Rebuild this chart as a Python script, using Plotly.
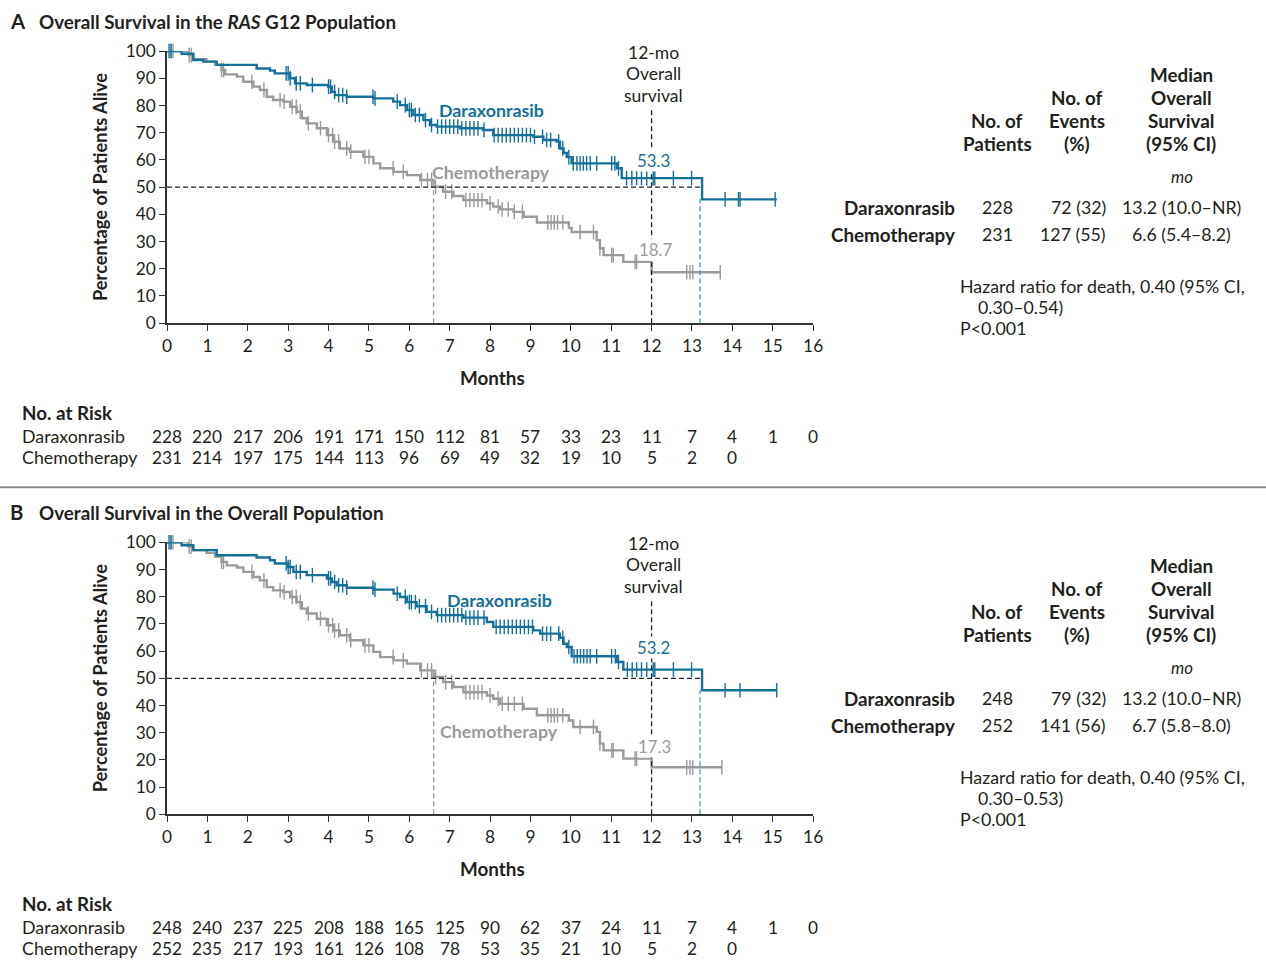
import plotly.graph_objects as go

W, H = 1266, 974
BLUE = "#14709a"
GRAY = "#9a9a9a"
BLUE_DASH = "#3d9cc8"
TXT = "#231f20"
FONT = "Lato"

months = list(range(17))

# ---------------- Panel A data ----------------
a_dara_t = [0, 0.36, 0.65, 0.9, 1.23, 2.22, 2.55, 2.67, 3.05, 3.17, 3.46, 3.99, 4.08, 4.16, 4.45,
            5.11, 5.6, 5.77, 5.94, 6.1, 6.35, 6.51, 6.68, 7.26, 7.83, 8.08, 9.07, 9.32, 9.65,
            9.73, 9.82, 9.9, 10.02, 11.14, 11.26, 13.25, 15.1]
a_dara_s = [100, 99.0, 96.7, 96.1, 94.9, 93.6, 92.8, 91.8, 90.0, 88.1, 87.5, 86.9, 85.0, 83.8, 83.2,
            82.6, 81.4, 80.1, 78.3, 76.5, 74.6, 72.8, 72.2, 71.6, 71.0, 69.1, 68.5, 67.3, 66.7,
            64.2, 62.5, 61.0, 58.7, 56.9, 53.3, 45.5, 45.5]
a_chemo_t = [0, 0.53, 0.65, 0.98, 1.19, 1.35, 1.44, 1.73, 1.89, 2.14, 2.30, 2.47, 2.63, 2.88, 3.05,
             3.21, 3.34, 3.46, 3.71, 3.96, 4.12, 4.28, 4.53, 4.86, 5.11, 5.28, 5.61, 5.94, 6.27,
             6.6, 6.84, 7.09, 7.34, 7.92, 8.08, 8.25, 8.58, 8.83, 9.16, 9.95, 10.02, 10.64, 10.72,
             10.81, 11.3, 12.0, 13.7]
a_chemo_s = [100, 98.5, 97.0, 96.1, 94.9, 93.0, 91.4, 90.6, 88.7, 86.9, 85.7, 83.2, 82.0, 81.4, 79.5,
             77.7, 75.3, 73.4, 71.6, 69.1, 66.7, 64.2, 63.0, 61.1, 58.7, 56.9, 55.6, 54.4, 52.6,
             50.1, 48.3, 46.7, 45.2, 44.0, 42.8, 41.8, 40.9, 39.1, 37.0, 35.0, 33.5, 30.5, 27.5,
             25.0, 22.5, 18.7, 18.7]
a_dara_cens = [0.05, 0.1, 2.95, 3.0, 3.05, 3.2, 3.3, 3.6, 4.0, 4.05, 4.15, 4.25, 4.35, 4.45, 5.1, 5.15,
               5.7, 5.9, 6.0, 6.05, 6.15, 6.25, 6.4, 6.55, 6.7, 6.8, 6.9, 7.0, 7.1, 7.2, 7.3, 7.4, 7.5,
               7.6, 7.7, 7.85, 8.1, 8.2, 8.3, 8.4, 8.5, 8.6, 8.7, 8.8, 8.9, 9.0, 9.1, 9.3, 9.4, 9.5,
               9.7, 9.8, 9.95, 10.06, 10.15, 10.23, 10.31, 10.39, 10.48, 10.64, 11.01, 11.09, 11.18,
               11.38, 11.51, 11.63, 11.75, 11.88, 12.04, 12.08, 12.54, 12.99, 13.82, 14.15, 14.19, 15.06]
a_chemo_cens = [0.1, 0.15, 0.55, 0.6, 1.35, 1.4, 2.1, 2.4, 2.8, 2.9, 3.1, 3.2, 3.3, 3.5, 3.8, 4.0, 4.1,
                4.15, 4.25, 4.45, 4.55, 4.9, 5.0, 5.6, 5.85, 6.3, 6.45, 6.55, 6.65, 6.9, 7.05, 7.4, 7.5,
                7.6, 7.7, 7.8, 8.0, 8.2, 8.3, 8.45, 8.6, 8.8, 9.43, 9.51, 9.59, 9.67, 9.8, 10.23, 10.56,
                10.72, 11.01, 11.05, 11.59, 11.63, 12.87, 12.95, 13.02, 13.7]
a_risk_dara = [228, 220, 217, 206, 191, 171, 150, 112, 81, 57, 33, 23, 11, 7, 4, 1, 0]
a_risk_chemo = [231, 214, 197, 175, 144, 113, 96, 69, 49, 32, 19, 10, 5, 2, 0]
a_os12 = [53.3, 18.7]
a_median = [13.2, 6.6]
a_median_line = [13.2, 6.6]

# ---------------- Panel B data ----------------
b_dara_t = [0, 0.36, 0.65, 1.23, 2.22, 2.55, 2.67, 3.0, 3.13, 3.46, 3.96, 4.08, 4.2, 4.45, 5.11,
            5.61, 5.77, 5.94, 6.18, 6.43, 6.68, 7.34, 7.92, 8.08, 9.07, 9.24, 9.73, 9.82, 9.9, 10.02,
            11.14, 11.3, 13.25, 15.1]
b_dara_s = [100, 98.9, 97.1, 95.2, 94.4, 93.4, 92.2, 90.9, 89.1, 87.9, 86.7, 85.4, 84.2, 83.3, 82.6,
            81.1, 79.9, 78.0, 76.5, 74.4, 73.2, 72.3, 70.7, 68.9, 67.6, 66.4, 64.9, 62.7, 61.5, 58.1,
            56.0, 53.2, 45.6, 45.6]
b_chemo_t = [0, 0.53, 0.65, 0.98, 1.19, 1.35, 1.48, 1.73, 1.89, 2.14, 2.30, 2.47, 2.63, 2.88, 3.05,
             3.21, 3.34, 3.46, 3.71, 3.96, 4.12, 4.28, 4.53, 4.86, 5.11, 5.28, 5.61, 5.94, 6.27, 6.6,
             6.84, 7.09, 7.34, 7.92, 8.08, 8.25, 8.83, 9.16, 9.95, 10.06, 10.64, 10.72, 10.81, 11.3,
             12.0, 13.74]
b_chemo_s = [100, 98.4, 97.1, 96.1, 94.7, 92.8, 91.5, 90.7, 89.1, 87.2, 86.0, 83.5, 82.3, 81.7, 79.9,
             78.0, 75.6, 73.8, 71.9, 69.5, 67.6, 65.8, 64.0, 62.1, 59.7, 57.8, 56.6, 55.4, 52.9, 50.5,
             48.6, 46.8, 44.9, 43.7, 42.5, 40.6, 38.8, 36.4, 34.5, 32.1, 30.3, 26.0, 23.5, 20.5,
             17.3, 17.3]
b_dara_cens = [0.05, 0.1, 2.95, 3.0, 3.05, 3.2, 3.3, 3.6, 4.0, 4.05, 4.15, 4.25, 4.35, 4.45, 5.1, 5.15,
               5.7, 5.9, 6.0, 6.05, 6.15, 6.25, 6.4, 6.55, 6.7, 6.8, 6.9, 7.0, 7.1, 7.2, 7.3, 7.4, 7.5,
               7.6, 7.7, 7.85, 8.15, 8.25, 8.35, 8.45, 8.55, 8.65, 8.75, 8.85, 8.95, 9.05, 9.3, 9.4,
               9.5, 9.7, 9.8, 9.95, 10.08, 10.16, 10.24, 10.32, 10.4, 10.48, 10.64, 11.01, 11.1,
               11.18, 11.4, 11.52, 11.63, 11.75, 11.88, 12.04, 12.08, 12.54, 12.99, 13.82, 14.19, 15.1]
b_chemo_cens = [0.1, 0.15, 0.55, 0.6, 1.35, 1.4, 2.1, 2.4, 2.8, 2.9, 3.1, 3.2, 3.3, 3.5, 3.8, 4.0, 4.1,
                4.15, 4.25, 4.45, 4.55, 4.9, 5.0, 5.6, 5.85, 6.3, 6.45, 6.55, 6.65, 6.9, 7.05, 7.4, 7.5,
                7.6, 7.7, 7.8, 8.0, 8.2, 8.3, 8.45, 8.6, 8.8, 9.43, 9.51, 9.59, 9.67, 9.8, 10.23,
                10.56, 10.72, 11.01, 11.05, 11.59, 11.63, 12.87, 12.95, 13.02, 13.74]
b_risk_dara = [248, 240, 237, 225, 208, 188, 165, 125, 90, 62, 37, 24, 11, 7, 4, 1, 0]
b_risk_chemo = [252, 235, 217, 193, 161, 126, 108, 78, 53, 35, 21, 10, 5, 2, 0]
b_os12 = [53.2, 17.3]
b_median = [13.2, 6.7]
b_median_line = [13.2, 6.6]

groups = ["Daraxonrasib", "Chemotherapy"]
a_table = [["228", "72 (32)", "13.2 (10.0–NR)"], ["231", "127 (55)", "6.6 (5.4–8.2)"]]
b_table = [["248", "79 (32)", "13.2 (10.0–NR)"], ["252", "141 (56)", "6.7 (5.8–8.0)"]]
a_hr = ["Hazard ratio for death, 0.40 (95% CI,", "0.30–0.54)", "P<0.001"]
b_hr = ["Hazard ratio for death, 0.40 (95% CI,", "0.30–0.53)", "P<0.001"]


def step_at(t, ts, ss):
    v = ss[0]
    for ti, si in zip(ts, ss):
        if ti <= t:
            v = si
        else:
            break
    return v


fig = go.Figure()
annotations = []
shapes = []

X_L, X_R = 167, 813
# compensation for the page-to-picture framing seen in the rendered snapshot
OX, SX, OY, SY = 5.0, 0.988, 11.0, 0.978
FS = 1.0 / 0.983


def px(x):
    return ((x - OX) / SX) / W


def py(y):
    return 1 - ((y - OY) / SY) / H


def fs(s):
    return round(s * FS, 2)


def txt(x, y, s, size=16, color=TXT, anchor="center", bold=False, italic=False, xref="paper", bg=None):
    if bold:
        s = "<b>" + s + "</b>"
    if italic:
        s = "<i>" + s + "</i>"
    a = dict(x=px(x) if xref == "paper" else x, y=py(y), xref=xref, yref="paper", text=s,
             showarrow=False, xanchor=anchor, yanchor="middle",
             font=dict(family=FONT, size=fs(size), color=color))
    if bg:
        a["bgcolor"] = bg
        a["borderpad"] = 0
    annotations.append(a)


panels = [
    dict(dy=0, sfx="", letter="A", title="Overall Survival in the <i>RAS</i> G12 Population",
         dt=a_dara_t, ds=a_dara_s, ct=a_chemo_t, cs=a_chemo_s, dc=a_dara_cens, cc=a_chemo_cens,
         rd=a_risk_dara, rc=a_risk_chemo, os12=a_os12, med=a_median_line, table=a_table, hr=a_hr,
         dlab=(491, 110), clab=(491, 172), os_d=(653, 160), os_c=(655, 249)),
    dict(dy=491, sfx="2", letter="B", title="Overall Survival in the Overall Population",
         dt=b_dara_t, ds=b_dara_s, ct=b_chemo_t, cs=b_chemo_s, dc=b_dara_cens, cc=b_chemo_cens,
         rd=b_risk_dara, rc=b_risk_chemo, os12=b_os12, med=b_median_line, table=b_table, hr=b_hr,
         dlab=(499, 600 - 491), clab=(499, 731 - 491), os_d=(653, 647 - 491), os_c=(654, 746 - 491)),
]

for p in panels:
    dy = p["dy"]
    sfx = p["sfx"]
    xa = "x" + sfx
    ya = "y" + sfx
    top, bot = 51 + dy, 323 + dy
    axis_common = dict(showline=True, linecolor="#333", linewidth=1.5, ticks="outside", ticklen=6,
                       tickwidth=1.3, tickcolor="#333", showgrid=False, zeroline=False,
                       tickfont=dict(family=FONT, size=fs(17), color=TXT))
    fig.update_layout(**{
        "xaxis" + sfx: dict(domain=[px(X_L), px(X_R)], range=[0, 16], tickvals=months,
                            anchor=ya, **axis_common),
        "yaxis" + sfx: dict(domain=[py(bot), py(top)], range=[0, 100], tickvals=list(range(0, 101, 10)),
                            anchor=xa, **axis_common),
    })

    # reference lines
    dmed, cmed = p["med"]
    shapes.append(dict(type="line", xref=xa, yref=ya, x0=0, x1=dmed, y0=50, y1=50,
                       line=dict(color="#222", width=1.3, dash="5px,3px")))
    shapes.append(dict(type="line", xref=xa, yref=ya, x0=cmed, x1=cmed, y0=0, y1=50,
                       line=dict(color=GRAY, width=1.3, dash="5px,3px")))
    shapes.append(dict(type="line", xref=xa, yref=ya, x0=dmed, x1=dmed, y0=0,
                       y1=step_at(dmed + 0.1, p["dt"], p["ds"]),
                       line=dict(color=BLUE_DASH, width=1.3, dash="5px,3px")))
    shapes.append(dict(type="line", xref=xa, yref=ya, x0=12, x1=12, y0=0, y1=79,
                       line=dict(color="#222", width=1.3, dash="5px,3px")))

    # curves
    for t, s, cens, col in [(p["ct"], p["cs"], p["cc"], GRAY), (p["dt"], p["ds"], p["dc"], BLUE)]:
        fig.add_trace(go.Scatter(x=t, y=s, mode="lines", line=dict(color=col, width=2.4, shape="hv"),
                                 xaxis=xa, yaxis=ya, showlegend=False, hoverinfo="skip"))
        fig.add_trace(go.Scatter(x=cens, y=[step_at(c, t, s) for c in cens], mode="markers",
                                 marker=dict(symbol="line-ns", size=10.5, line=dict(color=col, width=1.4)),
                                 xaxis=xa, yaxis=ya, showlegend=False, hoverinfo="skip",
                                 cliponaxis=False))

    # titles
    txt(8, 21 + dy, p["letter"], size=20, anchor="left", bold=True)
    txt(37, 21 + dy, p["title"], size=18.5, anchor="left", bold=True)
    annotations.append(dict(x=px(100), y=py(187 + dy), xref="paper", yref="paper",
                            text="<b>Percentage of Patients Alive</b>", textangle=-90, showarrow=False,
                            xanchor="center", yanchor="middle",
                            font=dict(family=FONT, size=fs(18), color=TXT)))
    txt(492, 377 + dy, "Months", size=18.5, bold=True)

    # in-plot labels
    txt(p["dlab"][0], p["dlab"][1] + dy, "Daraxonrasib", size=17.5, color=BLUE, bold=True)
    txt(p["clab"][0], p["clab"][1] + dy, "Chemotherapy", size=17.5, color=GRAY, bold=True)
    txt(p["os_d"][0], p["os_d"][1] + dy, f"{p['os12'][0]:.1f}", size=16.5, color=BLUE, bg="white")
    txt(p["os_c"][0], p["os_c"][1] + dy, f"{p['os12'][1]:.1f}", size=16.5, color=GRAY, bg="white")
    for i, line in enumerate(["12-mo", "Overall", "survival"]):
        txt(653, 52 + 21.5 * i + dy, line, size=17.2)

    # number at risk
    txt(20, 412 + dy, "No. at Risk", size=18.5, anchor="left", bold=True)
    txt(20, 436 + dy, groups[0], size=17.5, anchor="left")
    txt(20, 457 + dy, groups[1], size=17.5, anchor="left")
    for i, v in enumerate(p["rd"]):
        txt(months[i], 436 + dy, str(v), size=17, xref=xa)
    for i, v in enumerate(p["rc"]):
        txt(months[i], 457 + dy, str(v), size=17, xref=xa)

    # right table
    for i, line in enumerate(["Median", "Overall", "Survival", "(95% CI)"]):
        txt(1181, 74 + 23 * i + dy, line, size=18.5, bold=True)
    for i, line in enumerate(["No. of", "Events", "(%)"]):
        txt(1077, 97 + 23 * i + dy, line, size=18.5, bold=True)
    for i, line in enumerate(["No. of", "Patients"]):
        txt(997, 120 + 23 * i + dy, line, size=18.5, bold=True)
    txt(1182, 176 + dy, "mo", size=16.5, italic=True)
    for r, (g, row) in enumerate(zip(groups, p["table"])):
        yy = 207 + 27 * r + dy
        txt(957, yy, g, size=18.5, anchor="right", bold=True)
        txt(997, yy, row[0], size=17.5)
        txt(1108, yy, row[1], size=17.5, anchor="right")
        txt(1181, yy, row[2], size=17.5)
    txt(958, 286 + dy, p["hr"][0], size=17.5, anchor="left")
    txt(976, 307 + dy, p["hr"][1], size=17.5, anchor="left")
    txt(958, 328 + dy, p["hr"][2], size=17.5, anchor="left")

shapes.append(dict(type="line", xref="paper", yref="paper", x0=px(0), x1=px(W), y0=py(487), y1=py(487),
                   line=dict(color="#888888", width=2)))

fig.update_layout(width=W, height=H, autosize=False, margin=dict(l=0, r=0, t=0, b=0),
                  plot_bgcolor="white", paper_bgcolor="white", annotations=annotations, shapes=shapes,
                  font=dict(family=FONT, color=TXT))

fig.write_html("out.html", config={"displayModeBar": False},
               post_script="document.body.style.margin='0';document.body.style.padding='0';"
                           "document.documentElement.style.overflow='hidden';")
